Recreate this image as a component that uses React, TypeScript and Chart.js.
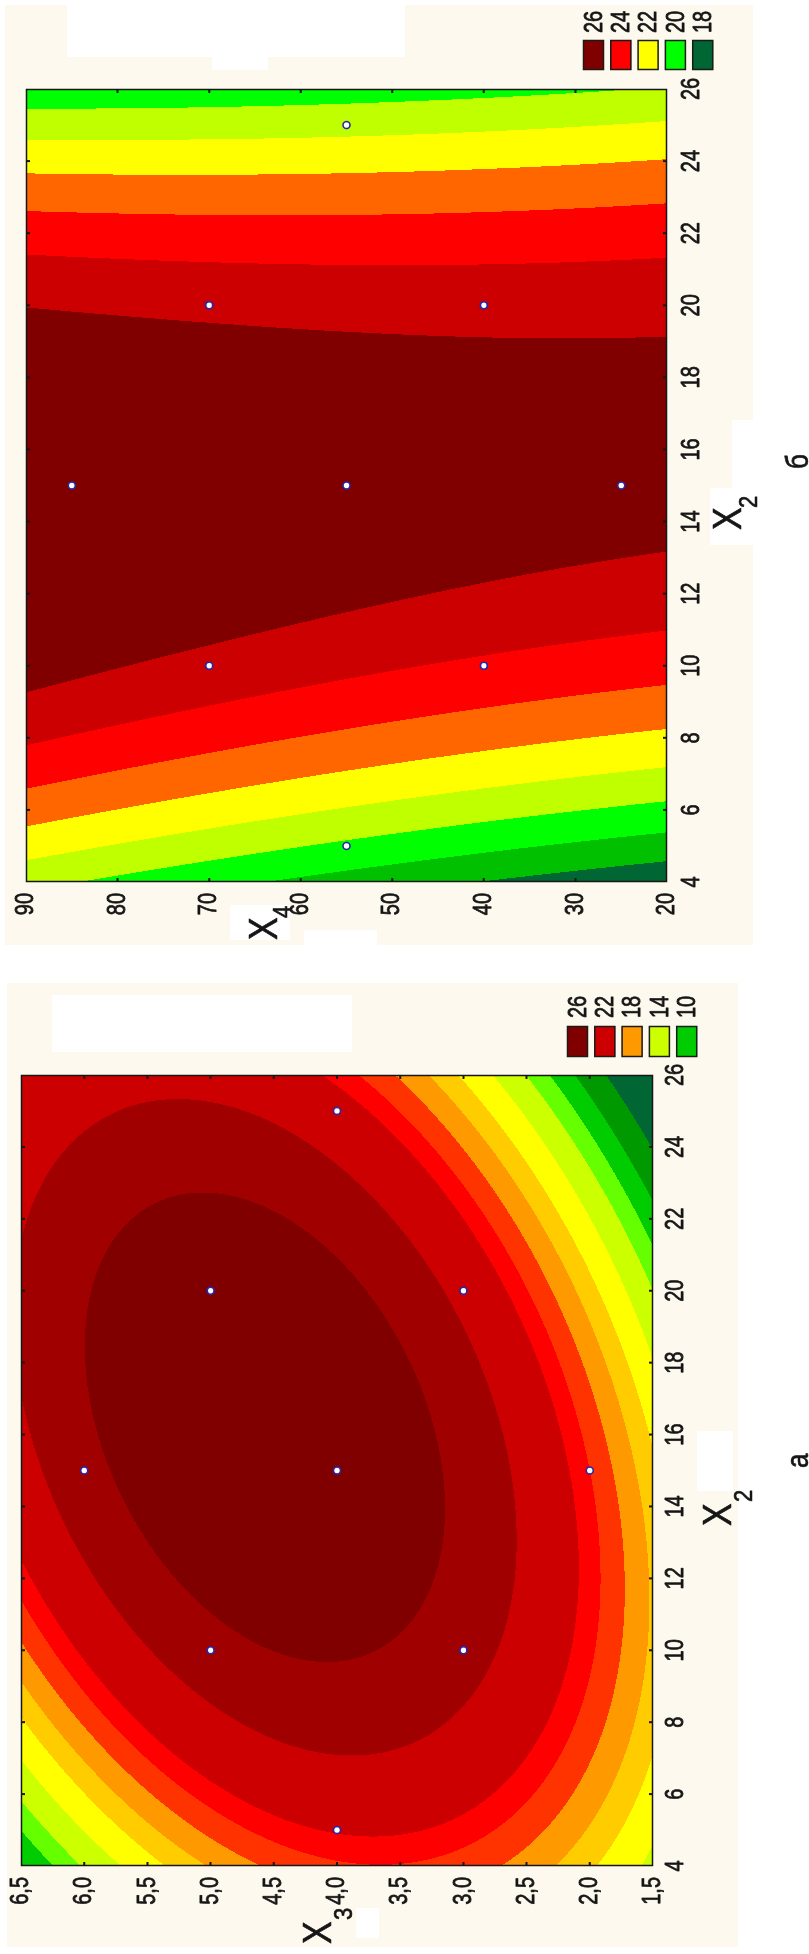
import React, { useEffect, useRef } from 'react';
import { Chart, registerables } from 'chart.js';

Chart.register(...registerables);

// ---------- axis ticks ----------
const x2Ticks = [4, 6, 8, 10, 12, 14, 16, 18, 20, 22, 24, 26];
const x4Ticks = [20, 30, 40, 50, 60, 70, 80, 90];
const x3Ticks = [1.5, 2, 2.5, 3, 3.5, 4, 4.5, 5, 5.5, 6, 6.5];

// ---------- design points (Doehlert plan) ----------
const designX2 = [5, 10, 10, 15, 15, 15, 20, 20, 25];
const designX4 = [55, 40, 70, 25, 55, 85, 40, 70, 55];
const designX3 = [4, 3, 5, 2, 4, 6, 3, 5, 4];

// ---------- fitted quadratic responses ----------
// order: [b0, b·X2, b·Xk, b·X2², b·Xk², b·X2·Xk]
const responseB = [11.06, 1.8584, 0.03889, -0.056, 0.0001358, -0.00248]; // Xk = X4
const responseA = [-0.355, 1.1018, 8.6349, -0.06135, -1.2883, 0.1939]; // Xk = X3

// ---------- contour levels and fills (low -> high) ----------
const levelsB = [19, 20, 21, 22, 23, 24, 25, 26];
const colorsB = ['#006633', '#00C000', '#00FF00', '#C0FF00', '#FFFF00', '#FF6600', '#FF0000', '#CC0000', '#800000'];
const levelsA = [7.9, 10, 11.6, 13, 14.8, 16.5, 17.8, 19.1, 20.3, 21.3, 23.8, 26];
const colorsA = ['#006633', '#009900', '#00CC00', '#66FF00', '#CCFF00', '#FFFF00', '#FFCC00', '#FF9900', '#FF3300', '#FF0000', '#CC0000', '#A00000', '#800000'];

// ---------- legends ----------
const legendValuesB = [26, 24, 22, 20, 18];
const legendColorsB = ['#800000', '#FF0000', '#FFFF00', '#00FF00', '#006633'];
const legendValuesA = [26, 22, 18, 14, 10];
const legendColorsA = ['#800000', '#CC0000', '#FF9900', '#CCFF00', '#00CC00'];

const CREAM = '#FEF9EE';
const INK = '#161616';
const FONT = '"Liberation Sans", Arial, sans-serif';
const STRETCH = 1.3;

type Rect = [number, number, number, number];
type Glyph = { text: string; u: number; v: number; size: number };

interface PanelSpec {
  pageTop: number;
  width: number;
  height: number;
  padding: { left: number; right: number; top: number; bottom: number };
  xMin: number; xMax: number; xTicks: number[];
  yMin: number; yMax: number; yTicks: number[];
  yFormat: (v: number) => string;
  xs: number[]; ys: number[];
  response: number[];
  levels: number[]; colors: string[];
  legendValues: number[]; legendColors: string[];
  legend: { u: number; v: number; w: number; h: number; step: number; labelU: number };
  xLabelV: number; yLabelU: number;
  cream: Rect; masks: Rect[];
  titles: Glyph[];
}

function hexToRgb(h: string): [number, number, number] {
  const n = parseInt(h.slice(1), 16);
  return [(n >> 16) & 255, (n >> 8) & 255, n & 255];
}

function evalResponse(c: number[], a: number, b: number) {
  return c[0] + c[1] * a + c[2] * b + c[3] * a * a + c[4] * b * b + c[5] * a * b;
}

function bandOf(levels: number[], z: number) {
  let i = 0;
  while (i < levels.length && z >= levels[i]) i++;
  return i;
}

function drawText(
  ctx: CanvasRenderingContext2D, text: string, x: number, y: number, size: number,
  align: CanvasTextAlign, baseline: CanvasTextBaseline, stretch = STRETCH,
) {
  ctx.save();
  ctx.font = `${size}px ${FONT}`;
  ctx.fillStyle = INK;
  ctx.strokeStyle = INK;
  ctx.lineWidth = 0.6;
  ctx.lineJoin = 'round';
  ctx.textAlign = align;
  ctx.textBaseline = baseline;
  ctx.translate(x, y);
  ctx.scale(1, stretch);
  ctx.fillText(text, 0, 0);
  ctx.strokeText(text, 0, 0);
  ctx.restore();
}

function makePanelPlugin(spec: PanelSpec) {
  return {
    id: 'panelArt',
    beforeDraw(chart: any) {
      const ctx: CanvasRenderingContext2D = chart.ctx;
      ctx.save();
      ctx.fillStyle = CREAM;
      ctx.fillRect(...spec.cream);
      ctx.fillStyle = '#FFFFFF';
      spec.masks.forEach((m) => ctx.fillRect(...m));
      ctx.restore();
    },
    beforeDatasetsDraw(chart: any) {
      const ctx: CanvasRenderingContext2D = chart.ctx;
      const { left, top, right, bottom } = chart.chartArea;
      const sx = chart.scales.x;
      const sy = chart.scales.y;
      const L = Math.round(left), T = Math.round(top);
      const w = Math.round(right) - L, h = Math.round(bottom) - T;
      const img = ctx.createImageData(w, h);
      const rgb = spec.colors.map(hexToRgb);
      const xv = new Float64Array(w);
      for (let i = 0; i < w; i++) xv[i] = sx.getValueForPixel(L + i + 0.5);
      for (let j = 0; j < h; j++) {
        const yv = sy.getValueForPixel(T + j + 0.5);
        for (let i = 0; i < w; i++) {
          const k = bandOf(spec.levels, evalResponse(spec.response, xv[i], yv));
          const c = rgb[k];
          const p = (j * w + i) * 4;
          img.data[p] = c[0]; img.data[p + 1] = c[1]; img.data[p + 2] = c[2]; img.data[p + 3] = 255;
        }
      }
      ctx.putImageData(img, L, T);

      // frame and inward tick marks on all four sides
      ctx.save();
      ctx.strokeStyle = INK;
      ctx.lineWidth = 1.5;
      ctx.strokeRect(L + 0.5, T + 0.5, w - 1, h - 1);
      ctx.lineWidth = 2;
      ctx.beginPath();
      spec.xTicks.forEach((t) => {
        const px = sx.getPixelForValue(t);
        if (px < L + 2 || px > L + w - 2) return;
        ctx.moveTo(px, T + h); ctx.lineTo(px, T + h - 4);
        ctx.moveTo(px, T); ctx.lineTo(px, T + 4);
      });
      spec.yTicks.forEach((t) => {
        const py = sy.getPixelForValue(t);
        if (py < T + 2 || py > T + h - 2) return;
        ctx.moveTo(L, py); ctx.lineTo(L + 4, py);
        ctx.moveTo(L + w, py); ctx.lineTo(L + w - 4, py);
      });
      ctx.stroke();
      ctx.restore();
    },
    afterDraw(chart: any) {
      const ctx: CanvasRenderingContext2D = chart.ctx;
      const sx = chart.scales.x;
      const sy = chart.scales.y;
      spec.xTicks.forEach((t) => {
        drawText(ctx, String(t), sx.getPixelForValue(t), spec.xLabelV, 20, 'center', 'middle');
      });
      spec.yTicks.forEach((t) => {
        drawText(ctx, spec.yFormat(t), spec.yLabelU, sy.getPixelForValue(t), 20, 'right', 'middle');
      });

      // legend: swatches with level labels
      const lg = spec.legend;
      spec.legendValues.forEach((val, i) => {
        const v = lg.v + i * lg.step;
        ctx.save();
        ctx.fillStyle = spec.legendColors[i];
        ctx.fillRect(lg.u, v, lg.w, lg.h);
        ctx.strokeStyle = '#1a1a1a';
        ctx.lineWidth = 1.5;
        ctx.strokeRect(lg.u + 0.5, v + 0.5, lg.w - 1, lg.h - 1);
        ctx.restore();
        drawText(ctx, String(val), lg.labelU, v + lg.h / 2 + 1, 20, 'left', 'middle');
      });

      spec.titles.forEach((g) => drawText(ctx, g.text, g.u, g.v, g.size, 'left', 'alphabetic', 1.2));
    },
  };
}

const fmtInt = (v: number) => String(v);
const fmtComma = (v: number) => v.toFixed(1).replace('.', ',');

const panelB: PanelSpec = {
  pageTop: 0,
  width: 960,
  height: 809,
  padding: { left: 78, right: 89, top: 26, bottom: 142 },
  xMin: 4, xMax: 26, xTicks: x2Ticks,
  yMin: 20, yMax: 90, yTicks: x4Ticks,
  yFormat: fmtInt,
  xs: designX2, ys: designX4,
  response: responseB,
  levels: levelsB, colors: colorsB,
  legendValues: legendValuesB, legendColors: legendColorsB,
  legend: { u: 890, v: 583, w: 30, h: 21, step: 27.3, labelU: 927 },
  xLabelV: 692, yLabelU: 67,
  cream: [15, 5, 940, 748],
  masks: [[903, 67, 57, 338], [890, 212, 13, 56], [465, 732, 75, 32], [415, 710, 57, 54], [20, 230, 35, 60], [13, 304, 17, 73]],
  titles: [
    { text: 'X', u: 430, v: 741, size: 34 },
    { text: '2', u: 452, v: 757, size: 22 },
    { text: 'X', u: 20, v: 277, size: 34 },
    { text: '4', u: 42, v: 291, size: 22 },
    { text: 'б', u: 491, v: 808, size: 26 },
  ],
};

const panelA: PanelSpec = {
  pageTop: 960,
  width: 994,
  height: 809,
  padding: { left: 88, right: 115, top: 21, bottom: 156 },
  xMin: 4, xMax: 26, xTicks: x2Ticks,
  yMin: 1.5, yMax: 6.5, yTicks: x3Ticks,
  yFormat: fmtComma,
  xs: designX2, ys: designX3,
  response: responseA,
  levels: levelsA, colors: colorsA,
  legendValues: legendValuesA, legendColors: legendColorsA,
  legend: { u: 897, v: 567, w: 31, h: 21, step: 27.3, labelU: 936 },
  xLabelV: 676, yLabelU: 77,
  cream: [7, 7, 964, 731],
  masks: [[902, 52, 57, 300], [463, 697, 60, 36], [16, 356, 30, 23]],
  titles: [
    { text: 'X', u: 428, v: 731, size: 34 },
    { text: '2', u: 452, v: 752, size: 22 },
    { text: 'X', u: 10, v: 331, size: 34 },
    { text: '3', u: 34, v: 352, size: 22 },
    { text: 'а', u: 486, v: 808, size: 26 },
  ],
};

function ContourPanel({ spec }: { spec: PanelSpec }) {
  const ref = useRef<HTMLCanvasElement>(null);
  useEffect(() => {
    const canvas = ref.current;
    if (!canvas) return;
    const chart = new Chart(canvas, {
      type: 'scatter',
      data: {
        datasets: [{
          data: spec.xs.map((x, i) => ({ x, y: spec.ys[i] })),
          pointRadius: 3.5,
          pointBorderWidth: 1.6,
          pointBackgroundColor: '#FFFFFF',
          pointBorderColor: '#2626A8',
          showLine: false,
        }],
      },
      options: {
        animation: false,
        responsive: false,
        devicePixelRatio: 1,
        events: [],
        layout: { padding: spec.padding },
        scales: {
          x: { type: 'linear', min: spec.xMin, max: spec.xMax, display: false },
          y: { type: 'linear', min: spec.yMin, max: spec.yMax, display: false },
        },
        plugins: { legend: { display: false }, tooltip: { enabled: false } },
      },
      plugins: [makePanelPlugin(spec)],
    });
    return () => chart.destroy();
  }, [spec]);
  return (
    <canvas
      ref={ref}
      width={spec.width}
      height={spec.height}
      style={{
        position: 'absolute',
        left: 0,
        top: spec.pageTop,
        width: spec.width,
        height: spec.height,
        transformOrigin: '0 0',
        transform: `translateY(${spec.width}px) rotate(-90deg)`,
      }}
    />
  );
}

export default function App() {
  return (
    <div style={{ position: 'absolute', left: 0, top: 0, width: 809, height: 1954, overflow: 'hidden', background: '#FFFFFF' }}>
      <ContourPanel spec={panelB} />
      <ContourPanel spec={panelA} />
    </div>
  );
}
